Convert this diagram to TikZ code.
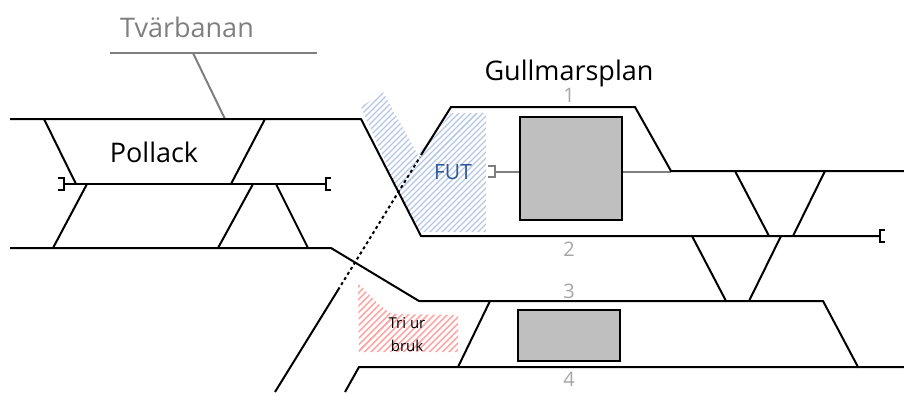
\documentclass[tikz,border=0pt]{standalone}
\usepackage{fontspec}
\setmainfont{Open Sans}
\definecolor{hatchblue}{HTML}{B4C7E7}
\definecolor{hatchred}{HTML}{FFA8A8}
\definecolor{futblue}{HTML}{2F5597}
\definecolor{railgray}{HTML}{7F7F7F}
\definecolor{numgray}{HTML}{A6A6A6}
\definecolor{boxgray}{HTML}{BFBFBF}
\tikzset{
  rail/.style={draw=black,line width=2pt,line join=miter},
  grayrail/.style={draw=railgray,line width=2pt},
  dotted rail/.style={draw=black,line width=2pt,dash pattern=on 3pt off 3pt},
  platform/.style={draw=black,line width=2pt,fill=boxgray},
  lbl/.style={inner sep=0pt,anchor=center},
  biglbl/.style={lbl,font=\fontsize{27}{30}\selectfont},
  tracknum/.style={lbl,text=numgray,font=\fontsize{20}{22}\selectfont}
}
\begin{document}
\begin{tikzpicture}[x=1pt,y=-1pt]
\useasboundingbox (0,0) rectangle (904,392);
% hatching
\begin{scope}
\clip (361,107) -- (383,92) -- (418,155) -- (451,113) -- (486,113) -- (486,232) -- (421,232) -- (398,190) -- cycle;
\foreach \i in {0,...,50}{
  \draw[hatchblue,line width=1.3pt] ({350+\i*6},240) -- ({350+\i*6+160},80);
  \draw[hatchblue,line width=1.3pt] ({350-\i*6},240) -- ({350-\i*6+160},80);
}
\end{scope}
\begin{scope}
\clip (358,283) .. controls (370,295) and (380,308) .. (393,314) -- (458,315) -- (458,352) -- (359,352) -- cycle;
\foreach \i in {0,...,30}{
  \draw[hatchred,line width=1.5pt] ({350+\i*6.5},360) -- ({350+\i*6.5+90},270);
  \draw[hatchred,line width=1.5pt] ({350-\i*6.5},360) -- ({350-\i*6.5+90},270);
}
\end{scope}
% platforms
\node[platform,minimum width=102pt,minimum height=103pt,inner sep=0pt] (boxA) at (571,168.5) {};
\node[platform,minimum width=102pt,minimum height=51pt,inner sep=0pt] (boxB) at (569,335.5) {};
% Tvärbanan
\coordinate (tvL) at (110,53); \coordinate (tvR) at (317,53);
\coordinate (tvA) at (193,53); \coordinate (tvB) at (225,119);
\draw[grayrail] (tvL) -- (tvR);
\draw[grayrail] (tvA) -- (tvB);
% gray stubs
\coordinate (stubL) at (495,171.5); \coordinate (stubR) at (671,171.5);
\draw[grayrail] (stubL) -- (boxA.west |- stubL);
\draw[grayrail] (boxA.east |- stubR) -- (stubR);
\draw[draw=railgray,line width=1.7pt] (488,166) -- (495,166) -- (495,177) -- (488,177);
% main tracks
\draw[rail] (10,119) -- (361,119) -- (421,236) -- (880,236);
\draw[rail] (880,230) -- (885,230) (880,242) -- (885,242);
\draw[rail] (880,229) -- (880,243);
\draw[rail] (421,155) -- (451,107) -- (635,107) -- (671,171) -- (904,171);
\draw[rail] (275,392) -- (338,290);
\draw[dotted rail] (338,290) -- (420,157);
\draw[rail] (10,248) -- (331,248) -- (419,301) -- (823,301) -- (858,367) -- (904,367);
\draw[rail] (345,392) -- (359,367) -- (858,367);
\draw[rail] (458,367) -- (490,301);
% Pollack
\draw[rail] (65,184) -- (326,184);
\draw[rail] (58,178) -- (64,178) -- (64,190) -- (58,190);
\draw[rail] (331,178) -- (326,178) -- (326,190) -- (331,190);
\draw[rail] (44,119) -- (76,184);
\draw[rail] (265,119) -- (231,184);
\draw[rail] (87,184) -- (53,248);
\draw[rail] (253,184) -- (218,248);
\draw[rail] (276,184) -- (308,248);
% right crossovers
\draw[rail] (735,171) -- (769,236);
\draw[rail] (825,171) -- (793,236);
\draw[rail] (692,236) -- (726,301);
\draw[rail] (781,236) -- (749,301);
% labels
\node[biglbl,text=railgray] (tv) at (187,27) {Tvärbanan};
\node[biglbl] (pol) at (154,152) {Pollack};
\node[biglbl] (gul) at (569,73) {Gullmarsplan};
\node[lbl,text=futblue,font=\fontsize{21}{24}\selectfont] (fut) at (453,172) {FUT};
\node[lbl,font=\fontsize{15}{23}\selectfont,align=center] (tri) at (407,335) {Tri ur\\bruk};
\node[tracknum] (n1) at (569,95) {1};
\node[tracknum] (n2) at (569,249) {2};
\node[tracknum] (n3) at (569,291) {3};
\node[tracknum] (n4) at (569,379) {4};
\end{tikzpicture}
\end{document}
